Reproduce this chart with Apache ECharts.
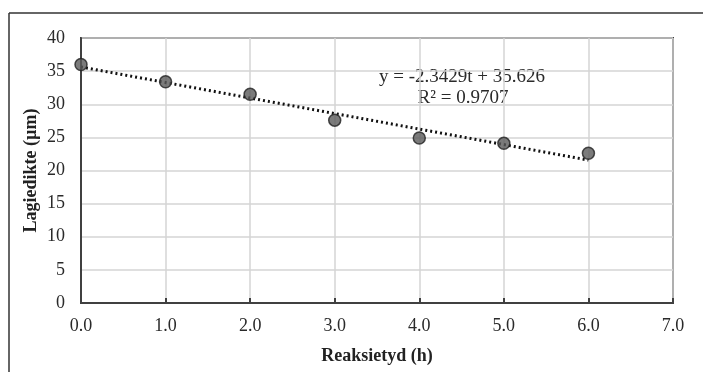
<!DOCTYPE html>
<html><head><meta charset="utf-8">
<script src="https://cdn.jsdelivr.net/npm/echarts@6/dist/echarts.min.js"></script>
<style>html,body{margin:0;padding:0;background:#fff}#c{width:703px;height:372px}</style>
</head><body><div id="c"></div>
<script>
const times = [0, 1, 2, 3, 4, 5, 6];
const thickness = [36.0, 33.4, 31.5, 27.6, 24.9, 24.1, 22.6];
const trendTimes = [0, 6];
const trendValues = [35.626, 21.569];
const xTicks = ['0.0','1.0','2.0','3.0','4.0','5.0','6.0','7.0'];
const yTicks = [0,5,10,15,20,25,30,35,40];
const equationText = 'y = -2.3429t + 35.626';
const r2Text = 'R² = 0.9707';

const font = 'Liberation Serif';
const chart = echarts.init(document.getElementById('c'), null, {renderer:'canvas'});
chart.setOption({
  animation:false,
  backgroundColor:'#fff',
  grid:{left:81, top:38, width:592, height:265, containLabel:false, outerBoundsMode:'none',
        show:true, borderColor:'#404040', borderWidth:2, backgroundColor:'transparent'},
  xAxis:{type:'value', min:0, max:7, interval:1,
    name:'Reaksietyd (h)', nameLocation:'middle', nameGap:44,
    nameTextStyle:{fontFamily:font, fontSize:18, fontWeight:'bold', color:'#222'},
    axisLine:{show:true, onZero:false, lineStyle:{color:'#404040', width:2}},
    axisTick:{show:true, inside:true, length:5, lineStyle:{color:'#404040', width:2}},
    axisLabel:{fontFamily:font, fontSize:18, color:'#2a2a2a', margin:14, formatter:(v)=>xTicks[Math.round(v)]},
    splitLine:{show:true, lineStyle:{color:'#d4d4d4', width:1.5}}},
  yAxis:{type:'value', min:0, max:40, interval:5,
    name:'Lagiedikte (µm)', nameLocation:'middle', nameGap:41, nameMoveOverlap:false,
    nameTextStyle:{fontFamily:font, fontSize:18, fontWeight:'bold', color:'#222'},
    axisLine:{show:true, lineStyle:{color:'#404040', width:2}},
    axisTick:{show:false},
    axisLabel:{fontFamily:font, fontSize:18, color:'#2a2a2a', margin:16, formatter:(v)=>String(yTicks[Math.round(v/5)])},
    splitLine:{show:true, lineStyle:{color:'#d4d4d4', width:1.5}}},
  series:[
    {type:'line', data:trendTimes.map((t,i)=>[t,trendValues[i]]), symbol:'none', z:3,
     lineStyle:{color:'#111', width:3, type:[2,3]}},
    {type:'scatter', data:times.map((t,i)=>[t,thickness[i]]), symbol:'circle', symbolSize:12, z:4,
     itemStyle:{color:'#5a5a5a', borderColor:'#222', borderWidth:1.5}}
  ],
  graphic:[
    {type:'line', shape:{x1:9, y1:13, x2:703, y2:13}, style:{stroke:'#333', lineWidth:1.5}},
    {type:'line', shape:{x1:9, y1:13, x2:9, y2:372}, style:{stroke:'#333', lineWidth:1.5}},
    {type:'text', x:462, y:77, style:{text:equationText, font:'19px "Liberation Serif"', fill:'#2a2a2a', align:'center', verticalAlign:'middle'}},
    {type:'text', x:463, y:98, style:{text:r2Text, font:'19px "Liberation Serif"', fill:'#2a2a2a', align:'center', verticalAlign:'middle'}}
  ]
});
</script></body></html>
